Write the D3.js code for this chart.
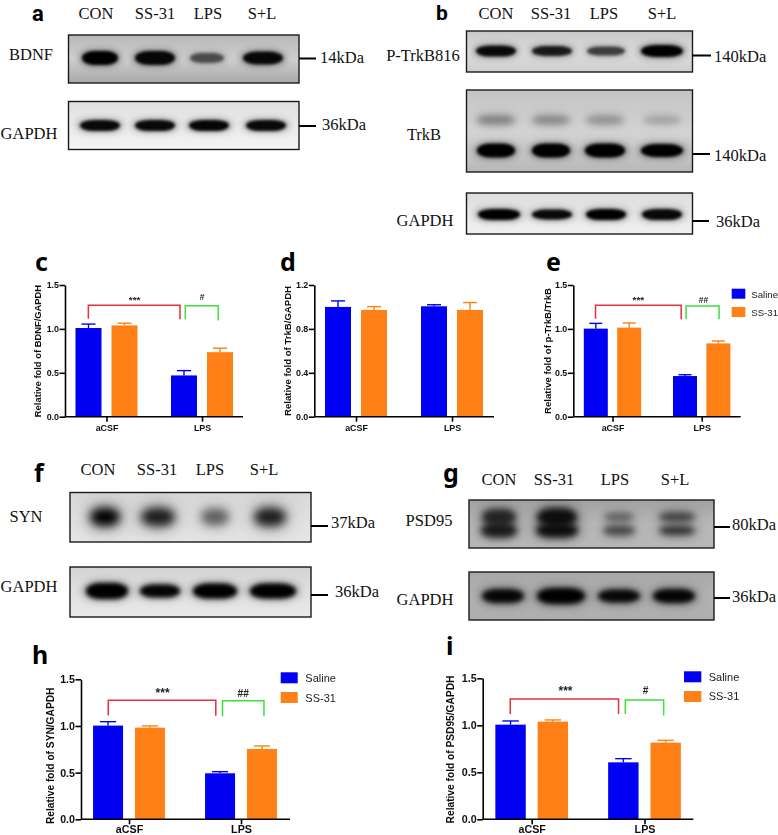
<!DOCTYPE html>
<html><head><meta charset="utf-8">
<script src="https://cdn.jsdelivr.net/npm/d3@7/dist/d3.min.js"></script>
<style>html,body{margin:0;padding:0;background:#fff;overflow:hidden}svg{display:block}</style>
</head><body><svg id="c" width="778" height="835"></svg>
<script>
// ---------- data ----------
const lanes = ['CON','SS-31','LPS','S+L'];
const groups = ['aCSF','LPS'];
const series = ['Saline','SS-31'];

const cSaline=[1.01,0.47], cSS31=[1.04,0.735], cSalineErr=[0.045,0.055], cSS31Err=[0.025,0.045];
const dSaline=[1.0,1.006], dSS31=[0.973,0.973], dSalineErr=[0.055,0.014], dSS31Err=[0.03,0.067];
const eSaline=[1.003,0.463], eSS31=[1.014,0.835], eSalineErr=[0.06,0.015], eSS31Err=[0.053,0.027];
const hSaline=[1.004,0.493], hSS31=[0.982,0.754], hSalineErr=[0.042,0.017], hSS31Err=[0.018,0.032];
const iSaline=[1.007,0.606], iSS31=[1.039,0.816], iSalineErr=[0.039,0.039], iSS31Err=[0.018,0.024];

const bdnfBand=[1,0.95,0.55,0.95], gapdhABand=[0.95,0.95,0.97,0.95];
const pTrkBBand=[0.95,0.85,0.65,1], trkBUpperBand=[0.34,0.3,0.26,0.2], trkBLowerBand=[1,1,1,1], gapdhBBand=[1,0.95,1,0.95];
const synBand=[1,0.85,0.55,0.85], gapdhFBand=[1,0.97,1,1];
const psdUpperBand=[0.72,0.88,0.42,0.55], psdLowerBand=[0.8,0.9,0.55,0.68], gapdhGBand=[0.95,1,0.95,0.97];

// ---------- layout ----------
const colors={Saline:'#0404f2','SS-31':'#ff8012'};
const blots=[
 {box:[68.5,35,299,83],bg:['#b8b8b8','#cfcfcf','#a8a8a8'],lanePx:[100,155,207,263],bands:[{v:bdnfBand,y:58,rx:[18,20,17,20],ry:[7,7,5,6.5],blur:1.8}],tick:[316,58.5],label:'14kDa',lx:320,ly:62.5,name:'BDNF',nx:31,ny:60},
 {box:[68.5,101.5,299,149.5],bg:['#e0e0e0','#eaeaea','#f4f4f4'],lanePx:[100,155,209,266],bands:[{v:gapdhABand,y:125.5,rx:[20,20,20,20],ry:[5.5,5.5,5.5,5.5],blur:1.8}],tick:[316,126],label:'36kDa',lx:322,ly:130,name:'GAPDH',nx:29,ny:139},
 {box:[466.5,31,692.5,72],bg:['#c8c8c8','#dcdcdc','#cfcfcf'],lanePx:[496,552,606,662],bands:[{v:pTrkBBand,y:51,rx:[20,20,19,21],ry:[5.5,5,4.5,6],blur:1.7}],tick:[711,55.5],label:'140kDa',lx:714,ly:62,name:'P-TrkB816',nx:423,ny:61},
 {box:[466.5,90,692.5,172],bg:['#c4c4c4','#d4d4d4','#b8b8b8'],lanePx:[496,551,605,662],bands:[{v:trkBUpperBand,y:120,rx:[19,19,19,19],ry:[4.5,4.5,4.5,4],blur:3},{v:trkBLowerBand,y:150.5,rx:[19,19,20,21],ry:[7,7,7,6.5],blur:1.7}],tick:[710,154],label:'140kDa',lx:714,ly:161,name:'TrkB',nx:424,ny:140},
 {box:[466.5,193,692.5,234],bg:['#dcdcdc','#e8e8e8','#f0f0f0'],lanePx:[499,552,606,662],bands:[{v:gapdhBBand,y:214.5,rx:[21,20,20,20],ry:[5.5,5,5.5,5.5],blur:1.7}],tick:[709,221],label:'36kDa',lx:716,ly:227,name:'GAPDH',nx:425,ny:226},
 {box:[70,492.5,311,542],bg:['#d8d8d8','#e2e2e2','#e6e6e6'],lanePx:[105,158,215,270],bands:[{v:synBand,y:517,rx:[15,17,14,16],ry:[9,9,8,9],blur:5}],tick:[328,526],label:'37kDa',lx:331,ly:528,name:'SYN',nx:26,ny:522},
 {box:[70,567,311,617],bg:['#d4d4d4','#e0e0e0','#eaeaea'],lanePx:[107,160,215,273],bands:[{v:gapdhFBand,y:591,rx:[21,20,22,23],ry:[8,6.5,7.5,7.5],blur:2}],tick:[328,595],label:'36kDa',lx:335,ly:597,name:'GAPDH',nx:29,ny:592},
 {box:[469,500,714,548],bg:['#a2a2a2','#b8b8b8','#b8b8b8'],lanePx:[499,557,619,677],bands:[{v:psdUpperBand,y:517,rx:[17,20,15,18],ry:[8,9,4,5],blur:3.2},{v:psdLowerBand,y:530.5,rx:[18,21,16,18],ry:[7,7,5,4.5],blur:3}],tick:[730,527],label:'80kDa',lx:732,ly:530,name:'PSD95',nx:429,ny:526},
 {box:[469,572,714,620],bg:['#a8a8a8','#b2b2b2','#aeaeae'],lanePx:[503,561,619,674],bands:[{v:gapdhGBand,y:596,rx:[21,24,21,21],ry:[7,8,6.5,7],blur:2.4}],tick:[730,598],label:'36kDa',lx:732,ly:602,name:'GAPDH',nx:425,ny:605}
];
const laneHeaders=[
 {px:[96,155,208,262],y:19},{px:[496,551,604,662],y:19},{px:[98,157,210,264],y:475},{px:[499,554,615,675],y:485}
];
const letters=[['a',32,20.5,22,'Roboto'],['b',436,19.5,21,'Roboto'],['c',35,270.7,25,'Noto Sans'],['d',280,270.7,25,'Noto Sans'],['e',546,270.7,25,'Noto Sans'],['f',34,482,25,'Noto Sans'],['g',443,482,25,'Noto Sans'],['h',32,664,25,'Noto Sans'],['i',446,655,25,'Noto Sans']];

const charts=[
 {saline:cSaline,ss:cSS31,se:cSalineErr,sse:cSS31Err,ax:65,top:285,bot:416.7,right:243,gc:[106.5,202],pitch:36,w:26,dom:1.5,ticks:[0,0.5,1,1.5],title:'Relative fold of BDNF/GAPDH',tx:38,tc:351,fs:8.9,tfs:9.4,
  red:[-0.19,0.77,1.27,1.115,1.11],green:[0.825,1.17,1.265,1.11,1.095],star:'***',hash:'#',sx:0.295,hx:1.0,lab:1.3,hlab:1.33},
 {saline:dSaline,ss:dSS31,se:dSalineErr,sse:dSS31Err,ax:314.3,top:285,bot:416.7,right:494,gc:[356,452],pitch:36,w:26,dom:1.2,ticks:[0,0.4,0.8,1.2],title:'Relative fold of TrkB/GAPDH',tx:288,tc:351,fs:8.9,tfs:9.6},
 {saline:eSaline,ss:eSS31,se:eSalineErr,sse:eSS31Err,ax:573.3,top:285,bot:416.7,right:740.7,gc:[612.5,701.7],pitch:33.4,w:24,dom:1.5,ticks:[0,0.5,1,1.5],title:'Relative fold of p-TrkB/TrkB',tx:548,tc:351,fs:8.9,tfs:9.6,
  red:[-0.19,0.77,1.27,1.115,1.11],green:[0.825,1.195,1.26,1.11,1.11],star:'***',hash:'##',sx:0.29,hx:1.02,lab:1.3,hlab:1.3,
  legend:{x:731.7,y:[288.7,307],w:13.6,h:10,tx:751.3,tb:[297.5,316],fs:9.6}},
 {saline:hSaline,ss:hSS31,se:hSalineErr,sse:hSS31Err,ax:81,top:679.3,bot:819.3,right:290,gc:[129,241],pitch:41.9,w:30,dom:1.5,ticks:[0,0.5,1,1.5],title:'Relative fold of SYN/GAPDH',tx:50,tc:755.8,fs:10.7,tfs:10.2,
  red:[-0.185,0.775,1.276,1.112,1.11],green:[0.835,1.205,1.27,1.105,1.105],star:'***',hash:'##',sx:0.3,hx:1.02,lab:1.31,hlab:1.31,
  legend:{x:280.7,y:[672.3,692],w:17,h:11,tx:305.3,tb:[682,701.5],fs:11}},
 {saline:iSaline,ss:iSS31,se:iSalineErr,sse:iSS31Err,ax:482.7,top:678.3,bot:819.3,right:693.3,gc:[531.7,644.5],pitch:42.3,w:30.4,dom:1.5,ticks:[0,0.5,1,1.5],title:'Relative fold of PSD95/GAPDH',tx:450,tc:749.5,fs:10.7,tfs:10.2,
  red:[-0.19,0.77,1.279,1.12,1.12],green:[0.83,1.17,1.27,1.12,1.105],star:'***',hash:'#',sx:0.3,hx:1.01,lab:1.32,hlab:1.33,
  legend:{x:684,y:[671.3,691],w:17.3,h:11,tx:708.7,tb:[680.5,700],fs:11}}
];

// ---------- drawing ----------
const svg=d3.select('#c');
const defs=svg.append('defs');
defs.append('filter').attr('id','soft').attr('x','-5%').attr('y','-5%').attr('width','110%').attr('height','110%')
  .append('feGaussianBlur').attr('stdDeviation',0.35);
const blurFor=s=>{const id='b'+String(s).replace('.','_');
  if(defs.select('#'+id).empty()){defs.append('filter').attr('id',id).attr('x','-50%').attr('y','-100%').attr('width','200%').attr('height','300%')
    .append('feGaussianBlur').attr('stdDeviation',s);}
  return 'url(#'+id+')';};
const serif="'Liberation Serif',serif", sans="'Liberation Sans',Arial,sans-serif";

blots.forEach((b,i)=>{
  const [x0,y0,x1,y1]=b.box;
  const gid='g'+i,cid='clip'+i;
  const grad=defs.append('linearGradient').attr('id',gid).attr('x1',0).attr('x2',0).attr('y1',0).attr('y2',1);
  b.bg.forEach((c,k)=>grad.append('stop').attr('offset',k/2).attr('stop-color',c));
  defs.append('clipPath').attr('id',cid).append('rect').attr('x',x0).attr('y',y0).attr('width',x1-x0).attr('height',y1-y0);
  const xL=d3.scaleOrdinal(lanes,b.lanePx);
  svg.append('rect').attr('x',x0).attr('y',y0).attr('width',x1-x0).attr('height',y1-y0).attr('fill','url(#'+gid+')');
  const g=svg.append('g').attr('clip-path','url(#'+cid+')');
  const tone=d3.scaleLinear([0,1],[0,1]);
  b.bands.forEach(bd=>{
    // soft halo, then a dark rounded core, both blurred like a film exposure
    const layer=(blur,grow,alpha)=>g.append('g').attr('filter',blurFor(blur)).selectAll('rect').data(lanes).join('rect')
      .attr('x',(d,k)=>xL(d)-bd.rx[k]*grow).attr('width',(d,k)=>2*bd.rx[k]*grow)
      .attr('y',(d,k)=>bd.y-bd.ry[k]*grow).attr('height',(d,k)=>2*bd.ry[k]*grow)
      .attr('rx',(d,k)=>bd.rx[k]*grow*0.7).attr('ry',(d,k)=>bd.ry[k]*grow)
      .attr('fill','#000').attr('opacity',(d,k)=>tone(bd.v[k])*alpha);
    layer(bd.blur*2.2,1.15,0.4);
    layer(bd.blur,1,1);
  });
  svg.append('rect').attr('x',x0).attr('y',y0).attr('width',x1-x0).attr('height',y1-y0)
    .attr('fill','none').attr('stroke','#1a1a1a').attr('stroke-width',1.4);
  svg.append('line').attr('x1',x1).attr('x2',b.tick[0]).attr('y1',b.tick[1]).attr('y2',b.tick[1]).attr('stroke','#000').attr('stroke-width',2);
  svg.append('text').attr('x',b.lx).attr('y',b.ly).attr('font-family',serif).attr('font-size',16.5).attr('fill','#111').text(b.label);
  svg.append('text').attr('x',b.nx).attr('y',b.ny).attr('text-anchor','middle').attr('font-family',serif).attr('font-size',16.5).attr('fill','#111').text(b.name);
});

laneHeaders.forEach(h=>{
  const xL=d3.scaleOrdinal(lanes,h.px);
  svg.append('g').selectAll('text').data(lanes).join('text').attr('x',d=>xL(d)).attr('y',h.y)
    .attr('text-anchor','middle').attr('font-family',serif).attr('font-size',16.5).attr('fill','#111').text(d=>d);
});

svg.append('g').selectAll('text').data(letters).join('text').attr('x',d=>d[1]).attr('y',d=>d[2])
  .attr('font-family',d=>`'${d[4]}',sans-serif`).attr('font-weight',700).attr('font-size',d=>d[3]).attr('fill','#000').text(d=>d[0]);

charts.forEach(c=>{
  const g=svg.append('g').attr('filter','url(#soft)');
  const y=d3.scaleLinear([0,c.dom],[c.bot,c.top]);
  const xG=d3.scalePoint(groups,c.gc);
  const xU=d3.scaleLinear([0,1],c.gc);
  const xS=d3.scaleBand(series,[-(c.pitch+c.w)/2,(c.pitch+c.w)/2]).paddingInner((c.pitch-c.w)/c.pitch);
  const rows=[];
  groups.forEach((gr,i)=>{
    rows.push({g:gr,s:'Saline',v:c.saline[i],e:c.se[i]});
    rows.push({g:gr,s:'SS-31',v:c.ss[i],e:c.sse[i]});
  });
  const cx=d=>xG(d.g)+xS(d.s)+xS.bandwidth()/2;
  g.append('g').selectAll('line').data(rows).join('line').attr('x1',cx).attr('x2',cx).attr('y1',d=>y(d.v)).attr('y2',d=>y(d.v+d.e))
    .attr('stroke',d=>colors[d.s]).attr('stroke-width',1.4);
  g.append('g').selectAll('line').data(rows).join('line').attr('x1',d=>cx(d)-c.w*0.27).attr('x2',d=>cx(d)+c.w*0.27).attr('y1',d=>y(d.v+d.e)).attr('y2',d=>y(d.v+d.e))
    .attr('stroke',d=>colors[d.s]).attr('stroke-width',1.4);
  g.append('g').selectAll('rect').data(rows).join('rect').attr('x',d=>xG(d.g)+xS(d.s)).attr('width',xS.bandwidth())
    .attr('y',d=>y(d.v)).attr('height',d=>y(0)-y(d.v)).attr('fill',d=>colors[d.s]);

  const ya=g.append('g').attr('transform',`translate(${c.ax},0)`)
    .call(d3.axisLeft(y).tickValues(c.ticks).tickFormat(d3.format('.1f')).tickSize(5.5).tickSizeOuter(0).tickPadding(0.5));
  const xa=g.append('g').attr('transform',`translate(0,${c.bot})`)
    .call(d3.axisBottom(xG).tickSize(5).tickSizeOuter(0).tickPadding(c.fs>10?1:3));
  xa.select('.domain').attr('d',`M${c.ax},0H${c.right}`);
  [ya,xa].forEach(a=>{
    a.selectAll('.domain,.tick line').attr('stroke','#000').attr('stroke-width',1.6);
    a.selectAll('text').attr('font-family',sans).attr('font-weight',700).attr('font-size',c.fs).attr('fill','#111');
  });
  g.append('text').attr('transform',`translate(${c.tx},${c.tc}) rotate(-90)`).attr('text-anchor','middle').attr('dy','0.35em')
    .attr('font-family',sans).attr('font-weight',700).attr('font-size',c.tfs).attr('fill','#111').text(c.title);

  const bracket=(b,col)=>g.append('path').attr('fill','none').attr('stroke',col).attr('stroke-width',1.5)
    .attr('d',d3.line()([[xU(b[0]),y(b[3])],[xU(b[0]),y(b[2])],[xU(b[1]),y(b[2])],[xU(b[1]),y(b[4])]]));
  if(c.red){
    bracket(c.red,'#e4303c'); bracket(c.green,'#3fe03a');
    const mk=(ux,v,t,fs)=>g.append('text').attr('x',xU(ux)).attr('y',y(v)).attr('text-anchor','middle').attr('font-family',sans)
      .attr('font-weight',700).attr('font-size',fs).attr('fill','#222').text(t);
    mk(c.sx,c.lab,c.star,c.fs*1.12); mk(c.hx,c.hlab,c.hash,c.fs*0.95);
  }
  if(c.legend){
    const L=c.legend;
    series.forEach((s,i)=>{
      g.append('rect').attr('x',L.x).attr('y',L.y[i]).attr('width',L.w).attr('height',L.h).attr('fill',colors[s]);
      g.append('text').attr('x',L.tx).attr('y',L.tb[i]).attr('font-family',sans).attr('font-size',L.fs).attr('fill','#222').text(s);
    });
  }
});
</script></body></html>
